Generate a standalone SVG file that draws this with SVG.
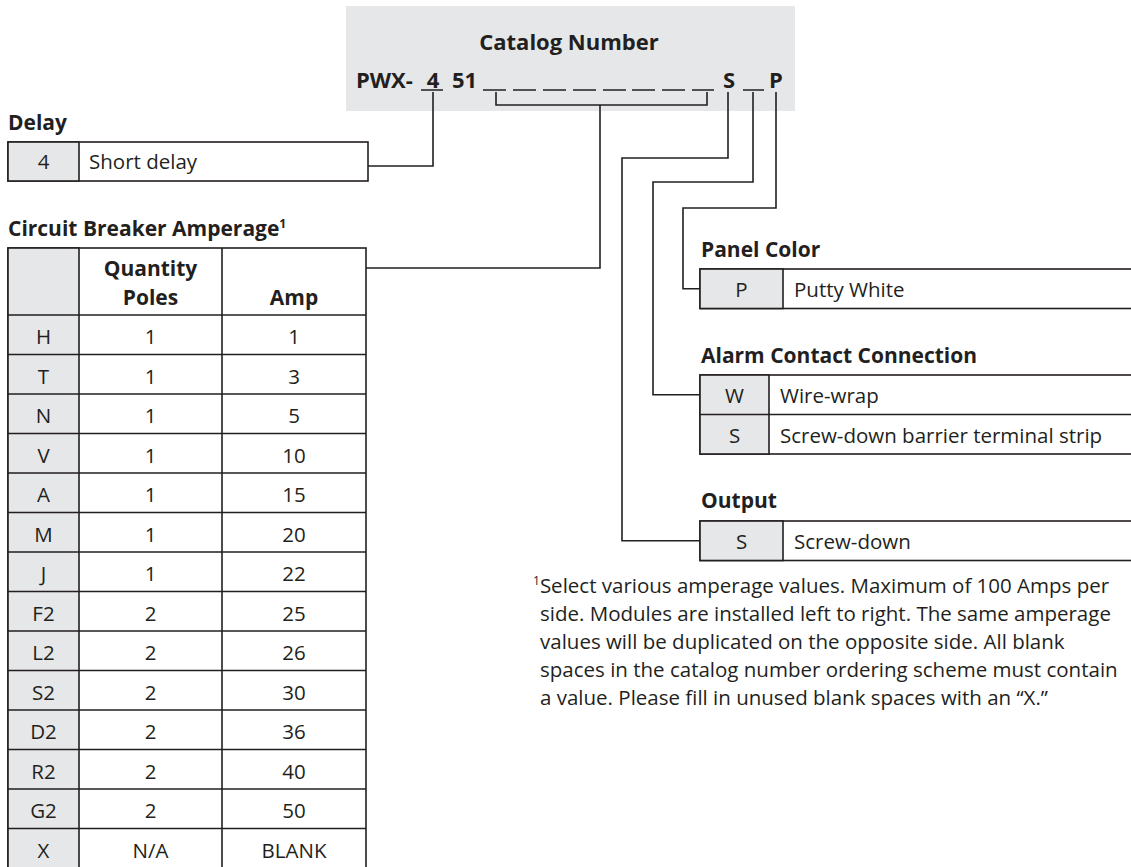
<svg xmlns="http://www.w3.org/2000/svg" width="1131" height="867" viewBox="0 0 1131 867">
<style>
text{font-family:"Open Sans","Liberation Sans",sans-serif;fill:#231f20;font-size:20.5px}
.b{font-weight:bold;font-size:21px}
.c{text-anchor:middle}
.cat{font-size:22px;font-weight:bold}
.ln{fill:none;stroke:#231f20;stroke-width:1.6}
.key{fill:#e6e7e8;stroke:#231f20;stroke-width:1.6}
.val{fill:#fff;stroke:#231f20;stroke-width:1.6}
.sup{font-size:12px}
</style>
<rect width="1131" height="867" fill="#fff"/>
<g id="catalog">
<rect x="346" y="6" width="449" height="105" fill="#e6e7e8"/>
<text class="cat c" x="569" y="50">Catalog Number</text>
<text class="cat" x="356" y="88">PWX-</text>
<text class="cat c" x="433" y="88">4</text>
<text class="cat" x="452" y="88">51</text>
<text class="cat c" x="729" y="88">S</text>
<text class="cat c" x="776" y="88">P</text>
<path class="ln" d="M421,90H443M483,90H506M513,90H536M543,90H566M573,90H596M603,90H626M632,90H655M662,90H685M692,90H714M743,90H764"/>
</g>
<g id="delay">
<text class="b" x="8" y="130">Delay</text>
<rect class="val" x="8" y="142" width="360" height="39"/>
<rect class="key" x="8" y="142" width="71" height="39"/>
<text class="c" x="43.5" y="169">4</text>
<text x="89" y="169">Short delay</text>
</g>
<g id="amperage">
<text class="b" x="8" y="236">Circuit Breaker Amperage<tspan class="sup" dy="-8">1</tspan></text>
<rect class="val" x="8" y="248" width="358" height="620"/>
<rect class="key" x="8" y="248" width="71" height="620"/>
<path class="ln" d="M222,248V868M8,315H366M8,354.5H366M8,394H366M8,433.5H366M8,473H366M8,512.5H366M8,552H366M8,591.5H366M8,631H366M8,670.5H366M8,710H366M8,749.5H366M8,789H366M8,828.5H366"/>
<text class="b c" x="150.5" y="276">Quantity</text>
<text class="b c" x="150.5" y="305">Poles</text>
<text class="b c" x="294" y="305">Amp</text>
<g>
<text class="c" x="43.5" y="344">H</text><text class="c" x="150.5" y="344">1</text><text class="c" x="294" y="344">1</text>
<text class="c" x="43.5" y="383.5">T</text><text class="c" x="150.5" y="383.5">1</text><text class="c" x="294" y="383.5">3</text>
<text class="c" x="43.5" y="423">N</text><text class="c" x="150.5" y="423">1</text><text class="c" x="294" y="423">5</text>
<text class="c" x="43.5" y="462.5">V</text><text class="c" x="150.5" y="462.5">1</text><text class="c" x="294" y="462.5">10</text>
<text class="c" x="43.5" y="502">A</text><text class="c" x="150.5" y="502">1</text><text class="c" x="294" y="502">15</text>
<text class="c" x="43.5" y="541.5">M</text><text class="c" x="150.5" y="541.5">1</text><text class="c" x="294" y="541.5">20</text>
<text class="c" x="43.5" y="581">J</text><text class="c" x="150.5" y="581">1</text><text class="c" x="294" y="581">22</text>
<text class="c" x="43.5" y="620.5">F2</text><text class="c" x="150.5" y="620.5">2</text><text class="c" x="294" y="620.5">25</text>
<text class="c" x="43.5" y="660">L2</text><text class="c" x="150.5" y="660">2</text><text class="c" x="294" y="660">26</text>
<text class="c" x="43.5" y="699.5">S2</text><text class="c" x="150.5" y="699.5">2</text><text class="c" x="294" y="699.5">30</text>
<text class="c" x="43.5" y="739">D2</text><text class="c" x="150.5" y="739">2</text><text class="c" x="294" y="739">36</text>
<text class="c" x="43.5" y="778.5">R2</text><text class="c" x="150.5" y="778.5">2</text><text class="c" x="294" y="778.5">40</text>
<text class="c" x="43.5" y="818">G2</text><text class="c" x="150.5" y="818">2</text><text class="c" x="294" y="818">50</text>
<text class="c" x="43.5" y="857.5">X</text><text class="c" x="150.5" y="857.5">N/A</text><text class="c" x="294" y="857.5">BLANK</text>
</g>
</g>
<g id="panel">
<text class="b" x="701" y="257">Panel Color</text>
<rect class="val" x="700" y="269" width="440" height="39.5"/>
<rect class="key" x="700" y="269" width="83" height="39.5"/>
<text class="c" x="741.5" y="297">P</text>
<text x="794" y="297">Putty White</text>
</g>
<g id="alarm">
<text class="b" x="701" y="363">Alarm Contact Connection</text>
<rect class="val" x="700" y="375" width="440" height="79"/>
<rect class="key" x="700" y="375" width="69" height="79"/>
<path class="ln" d="M700,414.5H1140"/>
<text class="c" x="734.5" y="403">W</text>
<text x="780" y="403">Wire-wrap</text>
<text class="c" x="734.5" y="442.5">S</text>
<text x="780" y="442.5">Screw-down barrier terminal strip</text>
</g>
<g id="output">
<text class="b" x="701" y="508">Output</text>
<rect class="val" x="700" y="521" width="440" height="39.5"/>
<rect class="key" x="700" y="521" width="83" height="39.5"/>
<text class="c" x="741.5" y="549">S</text>
<text x="794" y="549">Screw-down</text>
</g>
<g id="footnote">
<text x="533" y="593"><tspan class="sup" dy="-8">1</tspan><tspan dy="8">Select various amperage values. Maximum of 100 Amps per</tspan></text>
<text x="540" y="621">side. Modules are installed left to right. The same amperage</text>
<text x="540" y="649">values will be duplicated on the opposite side. All blank</text>
<text x="540" y="677">spaces in the catalog number ordering scheme must contain</text>
<text x="540" y="705">a value. Please fill in unused blank spaces with an “X.”</text>
</g>
<g id="connectors">
<path class="ln" d="M496,92V105H707V92"/>
<path class="ln" d="M600,105V268H366"/>
<path class="ln" d="M433,92V166H368"/>
<path class="ln" d="M728,92V158H622V540.75H700"/>
<path class="ln" d="M753,92V182H653V394.75H700"/>
<path class="ln" d="M776,92V208H683V288.75H700"/>
</g>
</svg>
